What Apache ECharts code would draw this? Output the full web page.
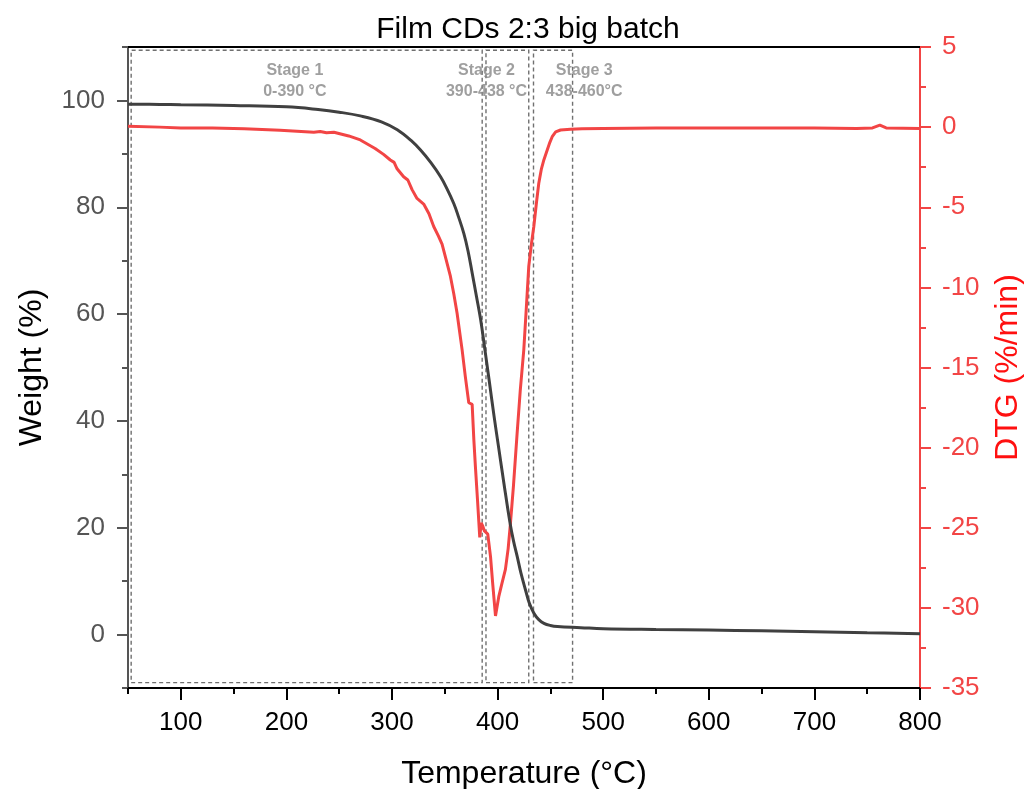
<!DOCTYPE html>
<html>
<head>
<meta charset="utf-8">
<title>Film CDs 2:3 big batch</title>
<script src="https://cdn.jsdelivr.net/npm/echarts@6/dist/echarts.min.js"></script>
<style>
  html, body { margin: 0; padding: 0; background: #ffffff; }
  #chart { width: 1024px; height: 789px; }
</style>
</head>
<body>
<div id="chart"></div>
<script>
// TGA run: temperature (°C) vs residual weight (%)
const weightCurve = [
  [50, 99.3], [80, 99.25], [100, 99.2], [150, 99.05], [200, 98.8], [230, 98.3],
  [250, 97.8], [270, 97.1], [290, 96.0], [305, 94.5], [318, 92.5], [327, 90.7],
  [337, 88.3], [346, 85.7], [352, 83.5], [358.5, 80.7], [363, 78.2], [368, 75.1],
  [372, 71.8], [376, 67.6], [380, 63.3], [384, 58.9], [388, 53.3], [392, 47.6],
  [396.7, 40.8], [401, 35.0], [406, 28.3], [411.6, 21.1], [415, 17.6], [418.6, 14.6],
  [422, 11.6], [426.5, 8.3], [430, 5.9], [434.4, 4.0], [439, 2.8], [443.9, 2.1],
  [450, 1.7], [456.7, 1.5], [478.7, 1.3], [500, 1.1], [550, 0.95], [600, 0.85],
  [650, 0.7], [700, 0.55], [750, 0.35], [800, 0.15]
];

// Derivative weight signal (%/min)
const dtgCurve = [
  [50, 0.05], [80, 0.0], [100, -0.05], [130, -0.05], [160, -0.1], [194, -0.2],
  [210, -0.25], [226, -0.32], [232, -0.27], [238, -0.35], [245, -0.32], [259, -0.55],
  [270, -0.8], [284, -1.33], [292, -1.7], [298.4, -2.05], [302, -2.2], [304.8, -2.6],
  [311, -3.1], [315, -3.3], [319, -3.9], [323.7, -4.45], [330, -4.8], [335, -5.4],
  [339.5, -6.2], [344, -6.8], [347.4, -7.3], [351, -8.2], [355.3, -9.3], [358.5, -10.4],
  [361.6, -11.6], [366.4, -13.9], [369.5, -15.6], [372.7, -17.2], [374, -17.3],
  [375.9, -17.3], [377.5, -19.5], [379, -21.2], [381, -23.3], [383.1, -25.6],
  [384.5, -24.7], [386, -24.9], [387.5, -25.2], [390.7, -25.4], [393.3, -26.8],
  [395.5, -28.6], [398, -30.5], [401.1, -29.3], [404, -28.5], [407.4, -27.6],
  [410, -26.3], [412.2, -24.7], [415, -22.4], [418.5, -19.1], [421.5, -16.4],
  [424.8, -13.9], [427, -11.5], [429.5, -8.7], [432, -7.3], [434.3, -6.2],
  [437, -4.6], [439, -3.5], [441.5, -2.6], [443.8, -2.05], [447, -1.43],
  [449.5, -0.95], [451.7, -0.6], [455, -0.3], [459.6, -0.18], [469, -0.14],
  [480, -0.1], [500, -0.08], [550, -0.05], [600, -0.06], [650, -0.05], [700, -0.06],
  [740, -0.08], [755, -0.05], [762, 0.12], [768, -0.05], [800, -0.08]
];

// Decomposition stages: labels and the dashed boxes (temperature bounds)
const stageNames = ['Stage 1', 'Stage 2', 'Stage 3'];
const stageRanges = ['0-390 °C', '390-438 °C', '438-460°C'];
const stageBoxFrom = [53, 389, 434];
const stageBoxTo = [385.4, 429.5, 471];
const stageLabelAt = [208, 389.5, 482];

const xMajorTicks = [100, 200, 300, 400, 500, 600, 700, 800];
const weightMajorTicks = [0, 20, 40, 60, 80, 100];

const FONT = '"Liberation Sans", Arial, sans-serif';
const RED = '#f24545';
const GREY_AXIS = '#555555';

const gridBox = { left: 128, right: 104, top: 47, bottom: 101, containLabel: false, outerBoundsMode: 'none' };

const chart = echarts.init(document.getElementById('chart'), null, { renderer: 'canvas' });

chart.setOption({
  animation: false,
  backgroundColor: '#ffffff',
  title: {
    text: 'Film CDs 2:3 big batch',
    left: 523, top: 10, textAlign: 'center',
    textStyle: { fontFamily: FONT, fontSize: 30, fontWeight: 'normal', color: '#000' }
  },
  grid: [Object.assign({}, gridBox), Object.assign({}, gridBox)],
  xAxis: [
    {
      gridIndex: 0, type: 'value', position: 'bottom',
      min: 50, max: 800, interval: 50,
      axisLine: { show: true, onZero: false, lineStyle: { color: '#000', width: 2 } },
      axisTick: { show: true, customValues: xMajorTicks, length: 12, lineStyle: { color: '#000', width: 2 } },
      axisLabel: { customValues: xMajorTicks, fontFamily: FONT, fontSize: 26, color: '#000', margin: 22 },
      splitLine: { show: false },
      name: 'Temperature (°C)', nameLocation: 'middle', nameGap: 70,
      nameTextStyle: { fontFamily: FONT, fontSize: 32, color: '#000' }
    },
    {
      // short ticks every 50 °C
      gridIndex: 1, type: 'value', position: 'bottom',
      min: 50, max: 800, interval: 50,
      axisLine: { show: false, onZero: false },
      axisTick: { show: true, length: 6, lineStyle: { color: '#000', width: 2 } },
      axisLabel: { show: false },
      splitLine: { show: false }
    },
    {
      // top frame line
      gridIndex: 1, type: 'value', position: 'top',
      min: 50, max: 800,
      axisLine: { show: true, onZero: false, lineStyle: { color: '#000', width: 2 } },
      axisTick: { show: false }, axisLabel: { show: false },
      splitLine: { show: false }
    }
  ],
  yAxis: [
    {
      gridIndex: 0, type: 'value', position: 'left',
      min: -10, max: 110, interval: 10,
      axisLine: { show: true, onZero: false, lineStyle: { color: GREY_AXIS, width: 2 } },
      axisTick: { show: true, customValues: weightMajorTicks, length: 11, lineStyle: { color: GREY_AXIS, width: 2 } },
      axisLabel: { customValues: weightMajorTicks, fontFamily: FONT, fontSize: 26, color: GREY_AXIS, margin: 23 },
      splitLine: { show: false },
      name: 'Weight (%)', nameLocation: 'middle', nameGap: 80,
      nameTextStyle: { fontFamily: FONT, fontSize: 32, color: '#000' }
    },
    {
      gridIndex: 0, type: 'value', position: 'right',
      min: -35, max: 5, interval: 5,
      axisLine: { show: true, onZero: false, lineStyle: { color: RED, width: 2 } },
      axisTick: { show: true, length: 11, lineStyle: { color: RED, width: 2 } },
      minorTick: { show: true, splitNumber: 2, length: 6, lineStyle: { color: RED, width: 2 } },
      axisLabel: { fontFamily: FONT, fontSize: 26, color: RED, margin: 22 },
      splitLine: { show: false }, minorSplitLine: { show: false },
      name: 'DTG (%/min)', nameLocation: 'middle', nameGap: 72,
      nameTextStyle: { fontFamily: FONT, fontSize: 32, color: '#ff1010' }
    },
    {
      // short ticks every 10 % on the weight side
      gridIndex: 1, type: 'value', position: 'left',
      min: -10, max: 110, interval: 10,
      axisLine: { show: false, onZero: false },
      axisTick: { show: true, length: 6, lineStyle: { color: GREY_AXIS, width: 2 } },
      axisLabel: { show: false },
      splitLine: { show: false }
    }
  ],
  series: [
    {
      name: 'Weight', type: 'line', xAxisIndex: 0, yAxisIndex: 0,
      data: weightCurve, showSymbol: false, smooth: 0.4,
      lineStyle: { color: '#404040', width: 3 }, z: 3,
      markArea: {
        silent: true,
        itemStyle: { color: 'rgba(0,0,0,0)', borderColor: '#707070', borderWidth: 1.4, borderType: [4, 3] },
        label: { show: false },
        data: stageBoxFrom.map((from, i) => [
          { xAxis: from, yAxis: -9 },
          { xAxis: stageBoxTo[i], yAxis: 109.4 }
        ])
      }
    },
    {
      name: 'DTG', type: 'line', xAxisIndex: 0, yAxisIndex: 1,
      data: dtgCurve, showSymbol: false,
      lineStyle: { color: RED, width: 3 }, z: 2
    },
    {
      name: 'Stages', type: 'scatter', xAxisIndex: 0, yAxisIndex: 0,
      symbolSize: 1, itemStyle: { color: 'rgba(0,0,0,0)' }, silent: true, z: 5,
      data: stageNames.map((n, i) => ({ value: [stageLabelAt[i], 103.6], name: n + '\n' + stageRanges[i] })),
      label: {
        show: true, position: 'inside', formatter: p => p.name,
        fontFamily: '"Liberation Sans Narrow", "Arial Narrow", "Liberation Sans", sans-serif',
        fontWeight: 'bold', fontSize: 16, lineHeight: 21.5, color: '#878787', align: 'center'
      }
    }
  ]
});
</script>
</body>
</html>
